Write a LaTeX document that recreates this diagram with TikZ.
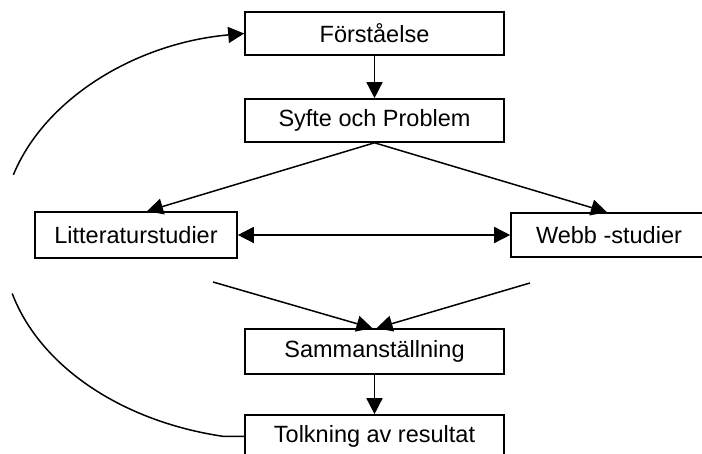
\documentclass[tikz,border=0pt]{standalone}
\usepackage{fontspec}
\setmainfont{Liberation Sans}
\usetikzlibrary{arrows.meta,calc}
\begin{document}
\begin{tikzpicture}[x=1pt,y=-1pt,
  box/.style={draw=black,line width=1.6pt,fill=white,inner sep=0pt,
    font=\fontsize{23.5}{28}\selectfont,text=black},
  conn/.style={draw=black,line width=1.5pt},
  tip/.tip={Triangle[length=16pt,width=16pt]},
  arr/.style={conn,-tip}]
\useasboundingbox (0,0) rectangle (702,454);
\clip (0,0) rectangle (702,454);
\fill[white] (0,0) rectangle (702,454);
\node[box,minimum width=259pt,minimum height=43pt] (fors) at (374.5,33.5) {Förståelse};
\node[box,minimum width=259pt,minimum height=43pt] (syfte) at (374.5,120.5) {Syfte och Problem};
\node[box,minimum width=202pt,minimum height=46pt] (lit) at (136,235) {Litteraturstudier};
\node[box,minimum width=196pt,minimum height=44pt] (webb) at (609,235) {Webb -studier};
\node[box,minimum width=259pt,minimum height=45pt] (samman) at (374.5,351.5) {Sammanställning};
\node[box,minimum width=259pt,minimum height=43pt] (tolk) at (374.5,436.5) {Tolkning av resultat};
\coordinate (l1) at (213,282);
\coordinate (r1) at (530,283);
\draw[arr] (fors.south) -- (syfte.north);
\draw[arr] (syfte.south) -- ($(lit.north)+(11,0)$);
\draw[arr] (syfte.south) -- ($(webb.north)+(-2,0)$);
\draw[conn,tip-tip] (lit.east) -- (webb.west);
\draw[arr] (l1) -- ($(samman.north)+(-2,0)$);
\draw[arr] (r1) -- ($(samman.north)+(2,0)$);
\draw[arr] (samman.south) -- (tolk.north);
\draw[conn,tip-] (fors.west) arc[start angle=263,end angle=196.6,x radius=276,y radius=200];
\draw[conn] (tolk.west) -- ++(-20,0) arc[start angle=101.3,end angle=164.6,x radius=276,y radius=200];
\end{tikzpicture}
\end{document}
